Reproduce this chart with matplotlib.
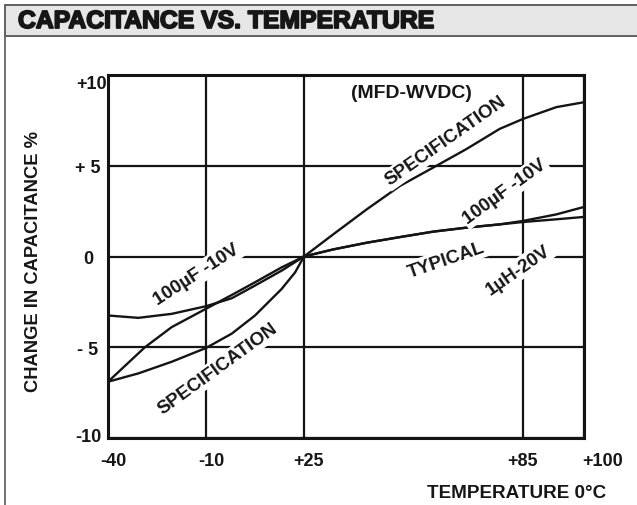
import numpy as np
import matplotlib
matplotlib.use("Agg")
import matplotlib.pyplot as plt
from matplotlib.patches import Rectangle
from matplotlib.lines import Line2D
from matplotlib.transforms import ScaledTranslation
import matplotlib.patheffects as pe

plt.rcParams['font.family'] = ['Liberation Sans', 'DejaVu Sans']

# ---- data (temperature in deg C, change in capacitance %) ----
x_ticks = [-40, -10, 25, 85, 100]
x_tick_labels = ["-40", "-10", "+25", "+85", "+100"]
y_ticks = [-10, -5, 0, 5, 10]
y_tick_labels = ["-10", "- 5", "0", "+ 5", "+10"]

# left-side curves (-40 .. +25)
t_cap_left = [-40, -30.7, -20.5, -10, -0.8, 7.5, 17.0, 25]
c_cap_left = [-3.25, -3.38, -3.16, -2.74, -2.30, -1.60, -0.78, 0.0]

t_spec_up_left = [-40, -28.7, -20.5, -10, -0.8, 7.5, 17.0, 25]
c_spec_up_left = [-6.9, -5.0, -3.89, -2.88, -2.12, -1.42, -0.60, 0.0]

t_spec_lo_left = [-40, -30.7, -20.5, -10, -0.8, 7.5, 17.0, 21.8, 25]
c_spec_lo_left = [-6.9, -6.44, -5.80, -5.04, -4.25, -3.25, -1.79, -0.88, 0.0]

# right-side curves (+25 .. +100)
t_spec_up_right = [25, 33.0, 42.2, 51.3, 61.3, 69.5, 78.6, 85, 93.2, 100]
c_spec_up_right = [0.0, 1.22, 2.60, 3.89, 5.00, 5.92, 7.03, 7.58, 8.23, 8.50]

t_cap_right = [25, 33.0, 42.2, 51.3, 60.4, 69.5, 78.6, 85, 93.2, 100]
c_cap_right = [0.0, 0.39, 0.76, 1.07, 1.37, 1.59, 1.77, 1.96, 2.32, 2.73]

t_typ_right = [25, 33.0, 42.2, 51.3, 60.4, 69.5, 78.6, 85, 93.2, 100]
c_typ_right = [0.0, 0.39, 0.76, 1.07, 1.37, 1.59, 1.77, 1.90, 2.05, 2.18]

# non-uniform temperature axis (relative positions of the grid columns)
x_pos = [0, 98, 196, 415, 476]


def fwd(t):
    t = np.asarray(t, dtype=float)
    return np.interp(t, x_ticks, x_pos)


def inv(p):
    p = np.asarray(p, dtype=float)
    return np.interp(p, x_pos, x_ticks)


W, H = 637, 506
fig = plt.figure(figsize=(W / 100, H / 100), dpi=100)
ink = '#161616'

# title bar and frame
fig.add_artist(Rectangle((5 / W, (H - 37) / H), (W + 10 - 5) / W, 31 / H,
                         transform=fig.transFigure, facecolor='#e6e6e6',
                         edgecolor='#555555', lw=1.3, clip_on=False))
fig.add_artist(Line2D([5 / W, 5 / W], [0, (H - 37) / H], transform=fig.transFigure,
                      color='#666666', lw=1.3))
fig.text(18 / W, (H - 22) / H, "CAPACITANCE VS. TEMPERATURE", fontsize=17.8,
         fontweight='bold', color=ink, va='center', ha='left',
         path_effects=[pe.withStroke(linewidth=1.3, foreground=ink)])

ax = fig.add_axes([108 / W, (H - 439) / H, 476 / W, 363 / H])
ax.set_xscale('function', functions=(fwd, inv))
ax.set_xlim(-40, 100)
ax.set_ylim(-10, 10)

lc = '#141414'
lw = 1.7
ax.plot(t_cap_left, c_cap_left, color=lc, lw=lw, zorder=3)
ax.plot(t_spec_up_left, c_spec_up_left, color=lc, lw=lw, zorder=3)
ax.plot(t_spec_lo_left, c_spec_lo_left, color=lc, lw=lw, zorder=3)
ax.plot(t_spec_up_right, c_spec_up_right, color=lc, lw=lw, zorder=3)
ax.plot(t_cap_right, c_cap_right, color=lc, lw=lw, zorder=3)
ax.plot(t_typ_right, c_typ_right, color=lc, lw=lw, zorder=3)

ax.set_xticks(x_ticks)
ax.set_xticklabels(x_tick_labels)
ax.set_yticks(y_ticks)
ax.set_yticklabels(y_tick_labels)
ax.minorticks_off()
ax.tick_params(axis='both', length=0, labelsize=13, colors=ink)
ax.tick_params(axis='x', pad=10)
ax.tick_params(axis='y', pad=14.4)
for lab in ax.get_xticklabels():
    lab.set_fontweight('bold')
for lab in ax.get_yticklabels():
    lab.set_fontweight('bold')
    lab.set_horizontalalignment('center')

xl = ax.get_xticklabels()
for i in range(3):
    xl[i].set_transform(xl[i].get_transform() + ScaledTranslation(5 / 100, 0, fig.dpi_scale_trans))
xl[4].set_horizontalalignment('left')
xl[4].set_transform(xl[4].get_transform() + ScaledTranslation(-2 / 100, 0, fig.dpi_scale_trans))
yl = ax.get_yticklabels()
yl[4].set_transform(yl[4].get_transform() + ScaledTranslation(4 / 100, -7 / 100, fig.dpi_scale_trans))
yl[0].set_transform(yl[0].get_transform() + ScaledTranslation(0, 3 / 100, fig.dpi_scale_trans))

ax.grid(True, color=lc, lw=1.6, zorder=1)
ax.set_axisbelow(True)
for s in ax.spines.values():
    s.set_linewidth(2.2)
    s.set_color(lc)

ax.set_ylabel("CHANGE IN CAPACITANCE %", fontsize=13.2, fontweight='bold', color=ink)
ax.yaxis.set_label_coords(-0.139, 0.49)
ax.set_xlabel("TEMPERATURE 0°C", fontsize=13.6, fontweight='bold', color=ink)
ax.xaxis.set_label_coords(0.858, -0.127)

box = dict(facecolor='white', edgecolor='none', pad=1.5)
lab_kw = dict(fontsize=13.5, fontweight='bold', color=ink, ha='center', va='center',
              rotation_mode='anchor', bbox=box, zorder=5)
ax.text(54.5, 9.04, "(MFD-WVDC)", fontsize=14, fontweight='bold', color=ink,
        ha='center', va='center', zorder=5)
ax.text(63.9, 6.39, "SPECIFICATION", rotation=35, **lab_kw)
ax.text(80.0, 3.58, "100µF -10V", rotation=36, **lab_kw)
ax.text(63.9, -0.17, "TYPICAL", rotation=19, **lab_kw)
ax.text(83.8, -0.72, "1µH-20V", rotation=35, **lab_kw)
ax.text(-12.8, -0.99, "100µF -10V", rotation=33, **lab_kw)
ax.text(-5.7, -6.17, "SPECIFICATION", rotation=36, **lab_kw)

fig.savefig("out.png", dpi=100)
